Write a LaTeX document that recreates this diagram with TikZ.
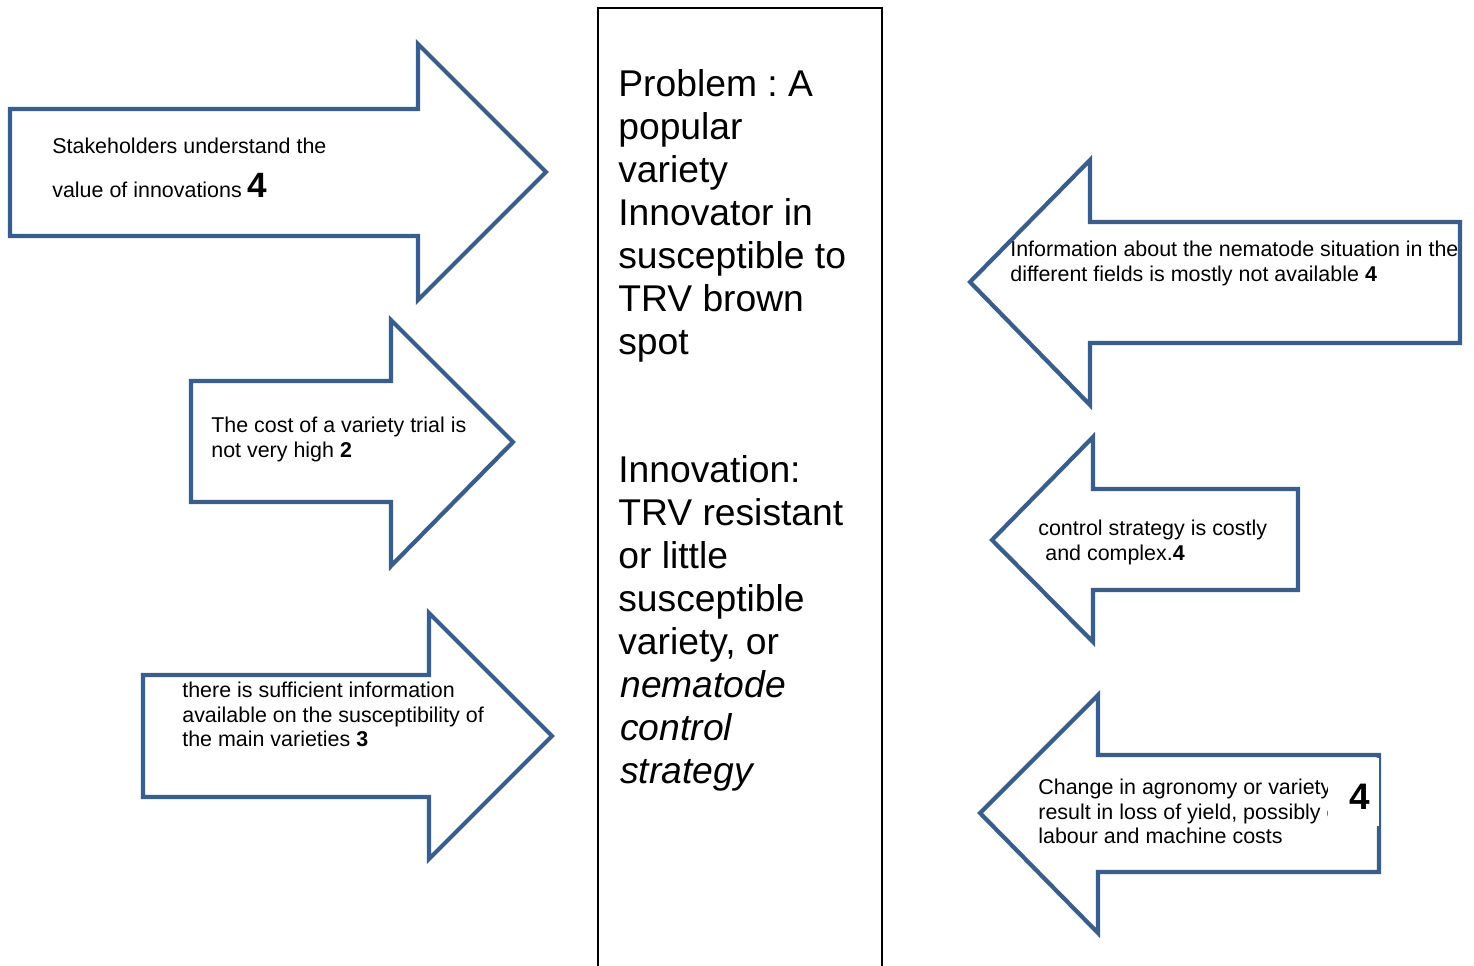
\documentclass[tikz,border=0pt]{standalone}
\usepackage{fontspec}
\setmainfont{Liberation Sans}
\frenchspacing
\definecolor{arrowblue}{HTML}{3A5E8C}
\tikzset{
  blockarrow/.style={draw=arrowblue,line width=2.4pt,line join=miter,fill=white},
  smalltext/.style={anchor=north west,inner sep=0pt,align=left,font=\fontsize{12.2}{13.95}\selectfont},
  bigtext/.style={anchor=north west,inner sep=0pt,align=left,font=\fontsize{21.2}{24.5}\selectfont}
}
\begin{document}
\begin{tikzpicture}[x=0.02cm,y=-0.02cm]
		\useasboundingbox (0,0) rectangle (1474,966);
		\draw[line width=1.2pt] (598,966) -- (598,8) -- (882,8) -- (882,966);
		\node[bigtext] (problem) at (618,69){Problem : A\\popular\\variety\\Innovator in\\susceptible to\\TRV brown\\spot};
		\node[bigtext] (innovation) at (618,455){Innovation:\\TRV resistant\\or little\\susceptible\\variety, or\\\hspace*{0.04cm}\textit{nematode}\\\hspace*{0.04cm}\textit{control}\\\hspace*{0.04cm}\textit{strategy}};
		\draw[blockarrow] (10,109) -- (418,109) -- (418,44) -- (546,172) -- (418,300) -- (418,236) -- (10,236) -- cycle;
		\node[smalltext,font=\fontsize{12.2}{25}\selectfont] (stake) at (52,138){Stakeholders understand the\\value of innovations {\fontsize{20}{22}\selectfont\bfseries 4}};
		\draw[blockarrow] (191,381) -- (391,381) -- (391,320) -- (513,442) -- (391,566) -- (391,502) -- (191,502) -- cycle;
		\node[smalltext] (cost) at (211,417){The cost of a variety trial is\\not very high \textbf{2}};
		\draw[blockarrow] (143,675) -- (429,675) -- (429,613) -- (552,736) -- (429,859) -- (429,797) -- (143,797) -- cycle;
		\node[smalltext] (info) at (182,682){there is sufficient information\\available on the susceptibility of\\the main varieties \textbf{3}};
		\draw[blockarrow] (970,282) -- (1090,160) -- (1090,222) -- (1460,222) -- (1460,343) -- (1090,343) -- (1090,405) -- cycle;
		\node[smalltext] (nematode) at (1010,241){Information about the nematode situation in the\\different fields is mostly not available \textbf{4}};
		\draw[blockarrow] (992,540) -- (1093,437) -- (1093,489) -- (1298,489) -- (1298,590) -- (1093,590) -- (1093,642) -- cycle;
		\node[smalltext] (control) at (1038,520){control strategy is costly\\\hspace*{0.14cm}and complex.\textbf{4}};
		\draw[blockarrow] (980,813) -- (1098,695) -- (1098,755) -- (1379,755) -- (1379,872) -- (1098,872) -- (1098,933) -- cycle;
		\node[smalltext] (change) at (1038,779){Change in agronomy or variety\\result in loss of yield, possibly e\\labour and machine costs};
		\node[fill=white,inner sep=0pt,minimum width=1.02cm,minimum height=1.36cm] (cover) at (1353,792){};
		\node[font=\fontsize{21}{24}\selectfont\bfseries,inner sep=0pt] (num) at (1360,797){4};
	\end{tikzpicture}
\end{document}
